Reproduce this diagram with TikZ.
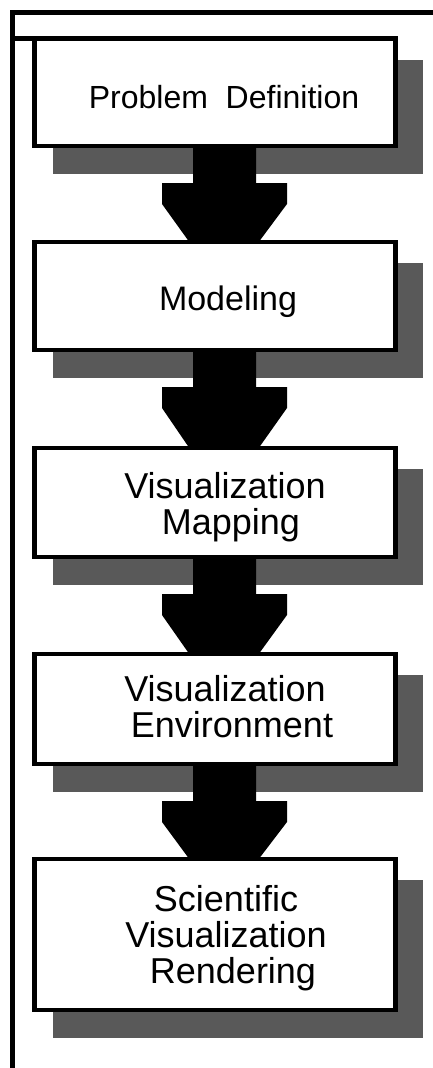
\documentclass[tikz,border=0pt]{standalone}
\usepackage{fontspec}
\setmainfont{Liberation Sans}
\pgfdeclarelayer{shadelayer}
\pgfdeclarelayer{flowlayer}
\pgfsetlayers{shadelayer,flowlayer,main}
\begin{document}
\begin{tikzpicture}[x=1pt,y=-1pt,
  frame/.style={line width=5pt},
  stage/.style={draw, line width=4.5pt, fill=white, rectangle, inner sep=0pt,
    outer sep=0pt, minimum width=361pt},
  shade/.style={fill=black!65},
  flow/.style={fill=black},
  lbl/.style={font=\fontsize{36}{36}\selectfont, align=center, inner sep=0pt}]
\useasboundingbox (0,0) rectangle (433,1068);
% frame
\draw[frame] (10,12.5) -- (433,12.5);
\draw[frame] (12.5,10) -- (12.5,1068);
% stages
\node[stage, minimum height=107.5pt] (b1) at (215,92.25) {};
\node[stage, minimum height=108pt] (b2) at (215,296) {};
\node[stage, minimum height=109pt] (b3) at (215,502.5) {};
\node[stage, minimum height=110pt] (b4) at (215,709) {};
\node[stage, minimum height=151pt] (b5) at (215,934.5) {};
\draw[frame] (10,38.5) -- (398,38.5);
% shadows
\begin{pgfonlayer}{shadelayer}
\foreach \b in {b1,b2,b3,b4,b5}{
  \fill[shade] ([xshift=18.5pt,yshift=-21pt]\b.north west) rectangle ([xshift=27.5pt,yshift=-28pt]\b.south east);
}
\end{pgfonlayer}
% arrows
\begin{pgfonlayer}{flowlayer}
\foreach \a/\b in {b1/b2,b2/b3,b3/b4,b4/b5}{
  \fill[flow] ([xshift=-22pt,yshift=2pt]\a.south) -- ([xshift=-22pt,yshift=-37pt]\a.south)
    -- ([xshift=-53pt,yshift=-37pt]\a.south) -- ([xshift=-53pt,yshift=-58pt]\a.south)
    -- ([xshift=-25pt,yshift=-1pt]\b.north) -- ([xshift=43pt,yshift=-1pt]\b.north)
    -- ([xshift=72pt,yshift=-58pt]\a.south) -- ([xshift=72pt,yshift=-37pt]\a.south)
    -- ([xshift=41pt,yshift=-37pt]\a.south) -- ([xshift=41pt,yshift=2pt]\a.south) -- cycle;
}
\end{pgfonlayer}
% labels
\node[lbl, anchor=base, font=\fontsize{32}{35}\selectfont] (t1) at (224,108) {Problem\ \ Definition};
\node[lbl, anchor=base, font=\fontsize{34}{35}\selectfont] (t2) at (228,310) {Modeling};
\node[lbl, anchor=north] (t3) at (225,472) {Visualization\\\hspace*{12pt}Mapping};
\node[lbl, anchor=north] (t4) at (225,675) {Visualization\\\hspace*{14pt}Environment};
\node[lbl, anchor=north] (t5) at (226,885) {Scientific\\Visualization\\\hspace*{14pt}Rendering};
\end{tikzpicture}
\end{document}
